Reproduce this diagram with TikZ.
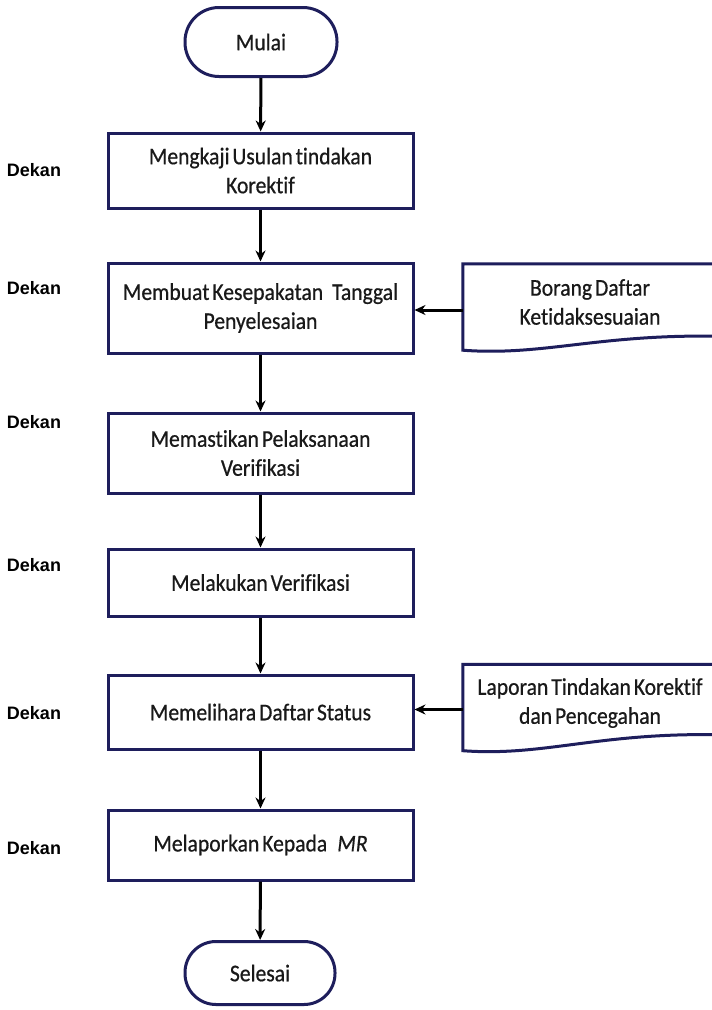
\documentclass[tikz,border=0pt]{standalone}
\usepackage{fontspec}
\setmainfont{Carlito}
\newfontfamily\boxfont[FakeStretch=0.9,WordSpace=0.6,FakeBold=0.6,Ligatures=CommonOff]{Carlito}
\newfontfamily\labfont{Liberation Sans}
\usetikzlibrary{arrows.meta,calc}
\definecolor{navy}{RGB}{30,30,92}
\definecolor{ink}{RGB}{25,25,25}
\begin{document}
\begin{tikzpicture}[x=1pt,y=-1pt,
  procbox/.style={draw=navy, line width=3pt, fill=white, minimum width=305pt,
    align=center, inner sep=2pt, text=ink,
    font=\boxfont\fontsize{24}{29}\selectfont},
  termbox/.style={procbox, minimum width=152pt},
  docbox/.style={draw=none, minimum width=254pt, minimum height=86pt,
    align=center, inner sep=2pt, text=ink,
    font=\boxfont\fontsize{24}{29}\selectfont},
  docline/.style={draw=navy, line width=3pt, fill=white},
  lab/.style={font=\labfont\bfseries\fontsize{18}{20}\selectfont, text=black},
  flow/.style={draw=black, line width=3pt, -{Stealth[length=11pt,width=10pt]}}]
\useasboundingbox (0,0) rectangle (712,1010);
\fill[white] (0,0) rectangle (712,1010);
\clip (0,0) rectangle (712,1010);

% terminals
\node[termbox, minimum height=69pt, rounded corners=34pt] (mulai) at (261,42) {Mulai};
\node[termbox, minimum width=150pt, minimum height=63pt, rounded corners=31pt] (selesai) at (260,973) {Selesai};

% process boxes
\node[procbox, minimum height=75pt] (b1) at (260.5,170.5) {Mengkaji Usulan tindakan\\Korektif};
\node[procbox, minimum height=90pt] (b2) at (260.5,308) {Membuat Kesepakatan\hspace{0.25em} Tanggal\\Penyelesaian};
\node[procbox, minimum height=80pt] (b3) at (260.5,453) {Memastikan Pelaksanaan\\Verifikasi};
\node[procbox, minimum height=67pt] (b4) at (260.5,582.5) {Melakukan Verifikasi};
\node[procbox, minimum height=74pt] (b5) at (260.5,712) {Memelihara Daftar Status};
\node[procbox, minimum height=70pt] (b6) at (260.5,845) {Melaporkan Kepada\hspace{0.3em} \textit{MR}};

% documents
\node[docbox] (d1) at (590,307) {};
\draw[docline] (d1.south west) -- (d1.north west) -- (d1.north east)
  -- ($(d1.south east)+(0,-14)$)
  .. controls ($(d1.south east)+(-120,-16)$) and ($(d1.south west)+(80,6)$) .. (d1.south west) -- cycle;
\node[docbox, anchor=center] (d1t) at (590,302) {Borang Daftar\\Ketidaksesuaian};

\node[docbox] (d2) at (590,707.5) {};
\draw[docline] (d2.south west) -- (d2.north west) -- (d2.north east)
  -- ($(d2.south east)+(0,-16)$)
  .. controls ($(d2.south east)+(-120,-18)$) and ($(d2.south west)+(80,6)$) .. (d2.south west) -- cycle;
\node[docbox] (d2t) at (590,703) {Laporan Tindakan Korektif\\dan Pencegahan};

% flow
\draw[flow] (mulai) -- (b1);
\draw[flow] (b1) -- (b2);
\draw[flow] (b2) -- (b3);
\draw[flow] (b3) -- (b4);
\draw[flow] (b4) -- (b5);
\draw[flow] (b5) -- (b6);
\draw[flow] (b6) -- (selesai);
\draw[flow] ($(d1.west)+(0,3)$) -- ($(b2.east |- d1.west)+(0,3)$);
\draw[flow] ($(d2.west)+(0,2)$) -- ($(b5.east |- d2.west)+(0,2)$);

% role labels
\node[lab] (r1) at (34,170) {Dekan};
\node[lab] (r2) at (34,288) {Dekan};
\node[lab] (r3) at (34,422) {Dekan};
\node[lab] (r4) at (34,565) {Dekan};
\node[lab] (r5) at (34,713) {Dekan};
\node[lab] (r6) at (34,848) {Dekan};
\end{tikzpicture}
\end{document}
